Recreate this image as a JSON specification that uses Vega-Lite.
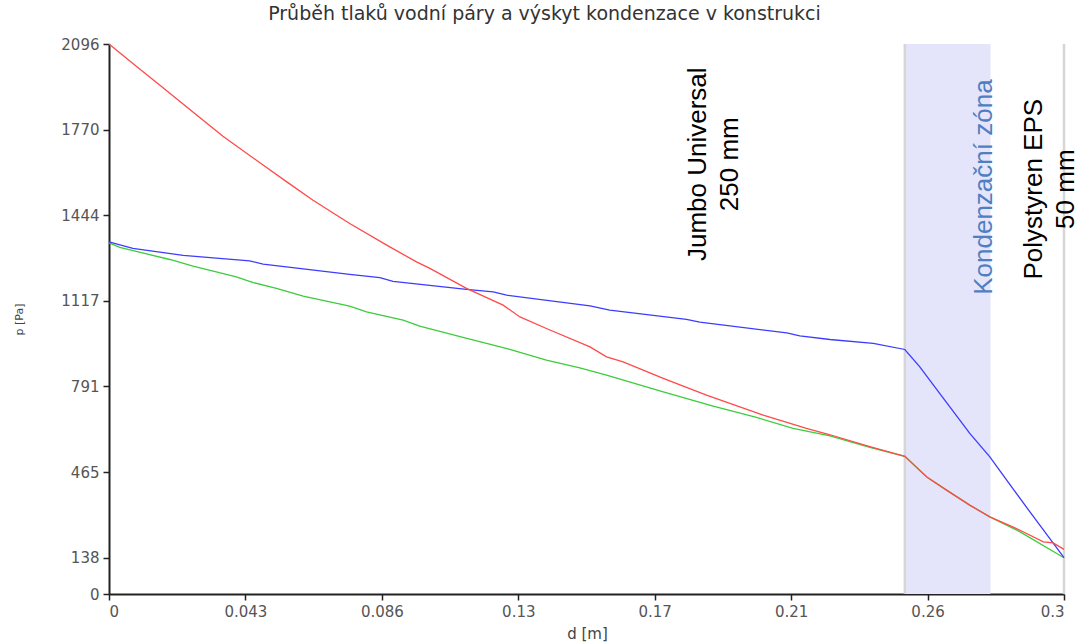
{
  "$schema": "https://vega.github.io/schema/vega-lite/v6.json",
  "width": 955,
  "height": 550,
  "autosize": "none",
  "padding": {"left": 109, "top": 44, "right": 15, "bottom": 49},
  "background": "white",
  "title": {
    "text": "Průběh tlaků vodní páry a výskyt kondenzace v konstrukci",
    "font": "DejaVu Sans",
    "fontSize": 19,
    "fontWeight": "normal",
    "color": "#333333",
    "anchor": "middle",
    "frame": "group",
    "dx": -42,
    "offset": 13
  },
  "config": {
    "view": {"stroke": null},
    "axis": {
      "grid": false,
      "domainColor": "#222222",
      "domainWidth": 2,
      "tickColor": "#222222",
      "tickWidth": 1.5,
      "tickSize": 6,
      "labelFont": "DejaVu Sans",
      "labelFontSize": 15,
      "labelColor": "#555555",
      "titleFont": "DejaVu Sans",
      "titleFontWeight": "normal",
      "titleColor": "#444444"
    }
  },
  "datasets": {
    "lines": [
      {"serie": "p_v_kond", "d": 0, "p": 1338},
      {"serie": "p_v_kond", "d": 0.0034, "p": 1321},
      {"serie": "p_v_kond", "d": 0.0191, "p": 1275},
      {"serie": "p_v_kond", "d": 0.0264, "p": 1250},
      {"serie": "p_v_kond", "d": 0.04, "p": 1209},
      {"serie": "p_v_kond", "d": 0.0453, "p": 1187},
      {"serie": "p_v_kond", "d": 0.0526, "p": 1165},
      {"serie": "p_v_kond", "d": 0.061, "p": 1135},
      {"serie": "p_v_kond", "d": 0.0756, "p": 1097},
      {"serie": "p_v_kond", "d": 0.0809, "p": 1075},
      {"serie": "p_v_kond", "d": 0.0924, "p": 1044},
      {"serie": "p_v_kond", "d": 0.0976, "p": 1021},
      {"serie": "p_v_kond", "d": 0.1112, "p": 978},
      {"serie": "p_v_kond", "d": 0.1186, "p": 955},
      {"serie": "p_v_kond", "d": 0.1259, "p": 932},
      {"serie": "p_v_kond", "d": 0.1374, "p": 891},
      {"serie": "p_v_kond", "d": 0.1479, "p": 862},
      {"serie": "p_v_kond", "d": 0.1563, "p": 834},
      {"serie": "p_v_kond", "d": 0.1741, "p": 770},
      {"serie": "p_v_kond", "d": 0.1898, "p": 716},
      {"serie": "p_v_kond", "d": 0.2034, "p": 673},
      {"serie": "p_v_kond", "d": 0.2149, "p": 631},
      {"serie": "p_v_kond", "d": 0.2265, "p": 603},
      {"serie": "p_v_kond", "d": 0.239, "p": 559},
      {"serie": "p_v_kond", "d": 0.25, "p": 525},
      {"serie": "p_v_kond", "d": 0.2569, "p": 446},
      {"serie": "p_v_kond", "d": 0.2631, "p": 396},
      {"serie": "p_v_kond", "d": 0.2705, "p": 338},
      {"serie": "p_v_kond", "d": 0.2767, "p": 294},
      {"serie": "p_v_kond", "d": 0.2862, "p": 237},
      {"serie": "p_v_kond", "d": 0.3, "p": 138.4},
      {"serie": "p_v", "d": 0, "p": 1342},
      {"serie": "p_v", "d": 0.0075, "p": 1317},
      {"serie": "p_v", "d": 0.0233, "p": 1291},
      {"serie": "p_v", "d": 0.0442, "p": 1270},
      {"serie": "p_v", "d": 0.0484, "p": 1257},
      {"serie": "p_v", "d": 0.0756, "p": 1218},
      {"serie": "p_v", "d": 0.0851, "p": 1206},
      {"serie": "p_v", "d": 0.0892, "p": 1192},
      {"serie": "p_v", "d": 0.1123, "p": 1161},
      {"serie": "p_v", "d": 0.1207, "p": 1152},
      {"serie": "p_v", "d": 0.1249, "p": 1139},
      {"serie": "p_v", "d": 0.1511, "p": 1098},
      {"serie": "p_v", "d": 0.1573, "p": 1082},
      {"serie": "p_v", "d": 0.1814, "p": 1047},
      {"serie": "p_v", "d": 0.1856, "p": 1036},
      {"serie": "p_v", "d": 0.2129, "p": 995},
      {"serie": "p_v", "d": 0.217, "p": 984},
      {"serie": "p_v", "d": 0.2265, "p": 970},
      {"serie": "p_v", "d": 0.2401, "p": 955},
      {"serie": "p_v", "d": 0.25, "p": 932},
      {"serie": "p_v", "d": 0.2547, "p": 866},
      {"serie": "p_v", "d": 0.261, "p": 764},
      {"serie": "p_v", "d": 0.2704, "p": 612},
      {"serie": "p_v", "d": 0.2767, "p": 523},
      {"serie": "p_v", "d": 0.282, "p": 434},
      {"serie": "p_v", "d": 0.2893, "p": 313},
      {"serie": "p_v", "d": 0.3, "p": 138.4},
      {"serie": "p_sat", "d": 0, "p": 2096.4},
      {"serie": "p_sat", "d": 0.0075, "p": 2022},
      {"serie": "p_sat", "d": 0.0159, "p": 1940},
      {"serie": "p_sat", "d": 0.0285, "p": 1816},
      {"serie": "p_sat", "d": 0.0358, "p": 1745},
      {"serie": "p_sat", "d": 0.0484, "p": 1635},
      {"serie": "p_sat", "d": 0.0563, "p": 1567},
      {"serie": "p_sat", "d": 0.0641, "p": 1501},
      {"serie": "p_sat", "d": 0.0756, "p": 1412},
      {"serie": "p_sat", "d": 0.0882, "p": 1323},
      {"serie": "p_sat", "d": 0.0966, "p": 1266},
      {"serie": "p_sat", "d": 0.1008, "p": 1241},
      {"serie": "p_sat", "d": 0.1123, "p": 1165},
      {"serie": "p_sat", "d": 0.1238, "p": 1101},
      {"serie": "p_sat", "d": 0.1291, "p": 1056},
      {"serie": "p_sat", "d": 0.1374, "p": 1012},
      {"serie": "p_sat", "d": 0.1511, "p": 942},
      {"serie": "p_sat", "d": 0.1563, "p": 904},
      {"serie": "p_sat", "d": 0.1615, "p": 885},
      {"serie": "p_sat", "d": 0.1741, "p": 822},
      {"serie": "p_sat", "d": 0.1877, "p": 758},
      {"serie": "p_sat", "d": 0.2055, "p": 682},
      {"serie": "p_sat", "d": 0.2191, "p": 631},
      {"serie": "p_sat", "d": 0.2265, "p": 607},
      {"serie": "p_sat", "d": 0.239, "p": 562},
      {"serie": "p_sat", "d": 0.25, "p": 525},
      {"serie": "p_sat", "d": 0.2569, "p": 446},
      {"serie": "p_sat", "d": 0.2631, "p": 396},
      {"serie": "p_sat", "d": 0.2705, "p": 338},
      {"serie": "p_sat", "d": 0.2767, "p": 294},
      {"serie": "p_sat", "d": 0.2862, "p": 243},
      {"serie": "p_sat", "d": 0.2935, "p": 199},
      {"serie": "p_sat", "d": 0.2966, "p": 195},
      {"serie": "p_sat", "d": 0.3, "p": 170}
    ],
    "zone": [{"od": 0.25, "do": 0.2769}],
    "hranice": [{"d": 0.25}, {"d": 0.3}],
    "popisky": [
      {"d": 0.1851, "p": 1638, "text": ["Jumbo Universal", "250 mm"], "typ": "vrstva"},
      {"d": 0.2748, "p": 1551, "text": ["Kondenzační zóna"], "typ": "zona"},
      {"d": 0.2906, "p": 1543, "text": ["Polystyren EPS", "50 mm"], "typ": "vrstva"}
    ]
  },
  "layer": [
    {
      "data": {"name": "zone"},
      "mark": {"type": "rect", "color": "#e4e4fa", "opacity": 1},
      "encoding": {
        "x": {"field": "od", "type": "quantitative", "title": "d [m]", "scale": {"domain": [0, 0.3], "nice": false}},
        "x2": {"field": "do"}
      }
    },
    {
      "data": {"name": "hranice"},
      "mark": {"type": "rule", "color": "#d6d6d6", "strokeWidth": 2.5},
      "encoding": {
        "x": {"field": "d", "type": "quantitative", "title": "d [m]"}
      }
    },
    {
      "data": {"name": "lines"},
      "mark": {"type": "line", "strokeWidth": 1.3, "interpolate": "linear"},
      "encoding": {
        "x": {
          "field": "d", "type": "quantitative", "title": "d [m]",
          "scale": {"domain": [0, 0.3], "nice": false, "zero": false},
          "axis": {
            "orient": "bottom",
            "values": [0, 0.0428571, 0.0857143, 0.1285714, 0.1714286, 0.2142857, 0.2571429, 0.3],
            "format": ".2~g",
            "titleX": 478,
            "titleY": 39,
            "titleFontSize": 15,
            "titleBaseline": "middle",
            "labelPadding": 4
          }
        },
        "y": {
          "field": "p", "type": "quantitative", "title": "p [Pa]",
          "scale": {"domain": [0, 2096.4], "nice": false, "zero": true},
          "axis": {
            "orient": "left",
            "values": [0, 138.4, 464.73, 791.07, 1117.4, 1443.73, 1770.07, 2096.4],
            "format": ".0f",
            "titleX": -90,
            "titleY": 275,
            "titleFontSize": 11,
            "titleAngle": 270,
            "titleBaseline": "middle",
            "titleAlign": "center",
            "labelPadding": 4
          }
        },
        "color": {
          "field": "serie", "type": "nominal",
          "scale": {"domain": ["p_v_kond", "p_v", "p_sat"], "range": ["#3ccc3c", "#3c3cff", "#ff4a4a"]},
          "legend": null
        }
      }
    },
    {
      "data": {"name": "popisky"},
      "mark": {"type": "text", "angle": 270, "align": "center", "baseline": "middle", "font": "Liberation Sans", "fontSize": 26, "lineHeight": 32},
      "encoding": {
        "x": {"field": "d", "type": "quantitative", "title": "d [m]"},
        "y": {"field": "p", "type": "quantitative", "title": "p [Pa]"},
        "text": {"field": "text"},
        "color": {
          "field": "typ", "type": "nominal",
          "scale": {"domain": ["vrstva", "zona"], "range": ["#000000", "#4f7fc0"]},
          "legend": null
        }
      }
    }
  ],
  "resolve": {"scale": {"color": "independent"}}
}
